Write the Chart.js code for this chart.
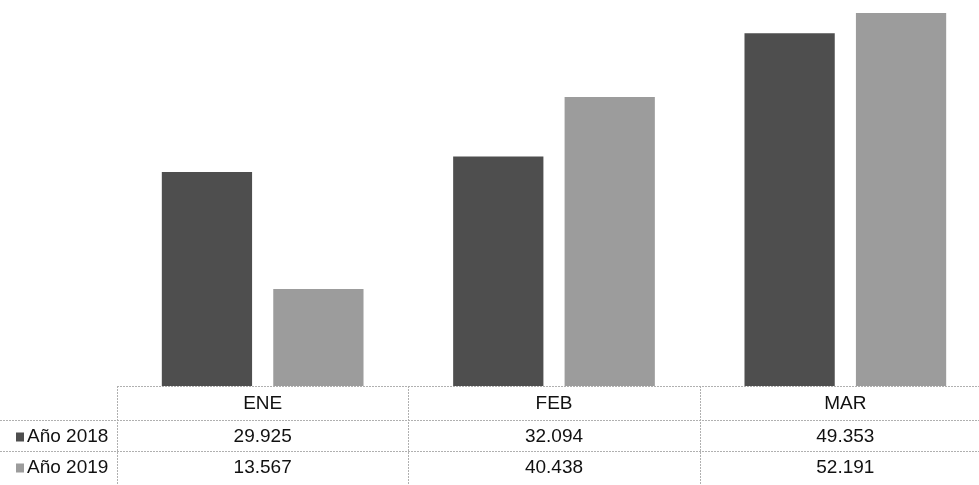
<!DOCTYPE html>
<html>
<head>
<meta charset="utf-8">
<script src="https://cdn.jsdelivr.net/npm/chart.js@4"></script>
<style>
  html, body { margin: 0; padding: 0; background: #fff; overflow: hidden; }
  canvas { display: block; }
</style>
</head>
<body>
<canvas id="myChart" width="992" height="485"></canvas>
<script>
// data
var months = ['ENE', 'FEB', 'MAR'];
var ventas2018 = [29.925, 32.094, 49.353];
var ventas2019 = [13.567, 40.438, 52.191];
var seriesNames = ['Año 2018', 'Año 2019'];
var seriesColors = ['#4e4e4e', '#9c9c9c'];

var FONT = '"Liberation Sans", Arial, sans-serif';

// draws the data table below the bars, columns follow the x scale
var dataTable = {
  id: 'dataTable',
  afterDraw: function (chart) {
    var ctx = chart.ctx;
    var x = chart.scales.x;
    var area = chart.chartArea;
    var top = area.bottom;
    var rowTops = [top, top + 34, top + 65];
    var rowH = [34, 31, 31];
    var colW = x.getPixelForValue(1) - x.getPixelForValue(0);
    var left = x.getPixelForValue(0) - colW / 2;
    var right = x.getPixelForValue(months.length - 1) + colW / 2;

    ctx.save();
    ctx.strokeStyle = '#b0b0b0';
    ctx.lineWidth = 1;
    ctx.setLineDash([2, 1]);
    ctx.beginPath();
    ctx.moveTo(left, rowTops[0] + 0.5); ctx.lineTo(right, rowTops[0] + 0.5);
    ctx.moveTo(0, rowTops[1] + 0.5); ctx.lineTo(right, rowTops[1] + 0.5);
    ctx.moveTo(0, rowTops[2] + 0.5); ctx.lineTo(right, rowTops[2] + 0.5);
    for (var i = 0; i <= months.length; i++) {
      var vx = Math.round(left + i * colW) + 0.5;
      ctx.moveTo(vx, top); ctx.lineTo(vx, chart.height);
    }
    ctx.stroke();
    ctx.setLineDash([]);

    ctx.fillStyle = '#111';
    ctx.font = '19px ' + FONT;
    ctx.textBaseline = 'middle';
    ctx.textAlign = 'center';
    months.forEach(function (m, i) {
      ctx.fillText(m, x.getPixelForValue(i), rowTops[0] + rowH[0] / 2 + 1);
    });

    var rows = [ventas2018, ventas2019];
    rows.forEach(function (vals, r) {
      var cy = rowTops[r + 1] + rowH[r + 1] / 2 + 1;
      vals.forEach(function (v, i) {
        ctx.textAlign = 'center';
        ctx.fillStyle = '#111';
        ctx.fillText(v.toFixed(3), x.getPixelForValue(i), cy);
      });
      ctx.fillStyle = seriesColors[r];
      ctx.fillRect(16, cy - 4, 8, 9);
      ctx.fillStyle = '#111';
      ctx.textAlign = 'left';
      ctx.fillText(seriesNames[r], 27, cy);
    });
    ctx.restore();
  }
};

var ctx = document.getElementById('myChart').getContext('2d');
var myChart = new Chart(ctx, {
  type: 'bar',
  data: {
    labels: months,
    datasets: [{
      label: seriesNames[0],
      data: ventas2018,
      backgroundColor: seriesColors[0],
      borderWidth: 0
    }, {
      label: seriesNames[1],
      data: ventas2019,
      backgroundColor: seriesColors[1],
      borderWidth: 0
    }]
  },
  options: {
    responsive: false,
    animation: false,
    layout: {
      padding: { left: 117, right: 1, top: 0, bottom: 99 }
    },
    categoryPercentage: 0.765,
    barPercentage: 0.81,
    plugins: {
      legend: { display: false },
      tooltip: { enabled: false }
    },
    scales: {
      x: { display: false },
      y: { display: false, min: 0, max: 54 }
    }
  },
  plugins: [dataTable]
});
</script>
</body>
</html>
